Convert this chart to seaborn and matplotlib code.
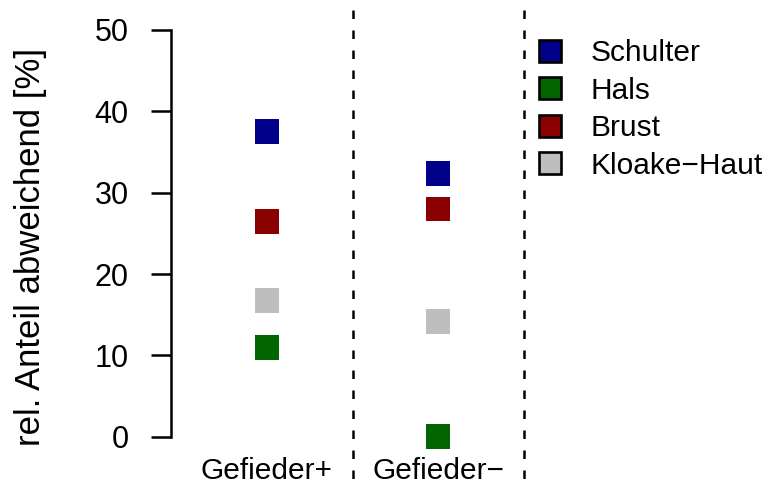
import matplotlib
matplotlib.use("Agg")
import matplotlib.pyplot as plt
import seaborn as sns
import pandas as pd

# Data: share of deviating findings per sampling site
groups = ["Gefieder+", "Gefieder\u2212"]
sites = ["Schulter", "Hals", "Brust", "Kloake\u2212Haut"]
schulter = [37.5, 32.4]
hals = [11.0, 0.0]
brust = [26.5, 28.0]
kloake = [16.7, 14.2]
colors = ["#00008B", "#006400", "#8B0000", "#BEBEBE"]

rows = []
for site, vals in zip(sites, [schulter, hals, brust, kloake]):
    for i, v in enumerate(vals):
        rows.append({"pos": i + 1, "site": site, "value": v})
df = pd.DataFrame(rows)

sns.set_theme(style="white")
plt.rcParams["font.family"] = ["Liberation Sans", "DejaVu Sans"]
plt.rcParams["text.color"] = "black"

W, H = 769, 490
fig = plt.figure(figsize=(W / 100, H / 100), dpi=100)
ax = fig.add_axes([171 / W, 1 - 453 / H, 1 - 171 / W, (453 - 13.7) / H])

sns.scatterplot(data=df, x="pos", y="value", hue="site", hue_order=sites,
                palette=colors, marker="s", s=320, linewidth=0, ax=ax,
                legend=True)

ax.set_xlim(1 - 96 / 171, 1 + (W - 267) / 171)
ax.set_ylim(-2, 52)

# group separators running the full height of the figure
for xv in [1.5, 2.5]:
    ax.axvline(xv, ymin=-0.2, ymax=1.2, color="black", lw=1.8,
               linestyle=(3.0, (3.4, 4.6)), clip_on=False)

for side in ["top", "right", "bottom"]:
    ax.spines[side].set_visible(False)
ax.spines["left"].set_bounds(0, 50)
ax.spines["left"].set_linewidth(1.8)
ax.spines["left"].set_color("black")

ax.set_yticks([0, 10, 20, 30, 40, 50])
ax.tick_params(axis="y", length=14.4, width=1.8, pad=16, labelsize=22,
               colors="black", left=True)
ax.set_xticks([1, 2])
ax.set_xticklabels(groups)
ax.tick_params(axis="x", length=0, pad=3, labelsize=21.5, colors="black")

ax.set_xlabel("")
ax.set_ylabel("rel. Anteil abweichend [%]", fontsize=25, color="black")
ax.yaxis.set_label_coords(-0.208, 0.468)

handles, labels = ax.get_legend_handles_labels()
ax.get_legend().remove()
for h in handles:
    h.set_markeredgecolor("black")
    h.set_markeredgewidth(1.9)
    h.set_markersize(16)
fig.legend(handles, labels, loc="upper left",
           bbox_to_anchor=(535 / W, 1 - 39 / H), frameon=False,
           fontsize=21.5, handlelength=1.0, handletextpad=0.85,
           labelspacing=0.32, borderpad=0, borderaxespad=0,
           labelcolor="black")

fig.savefig("out.png", dpi=100)
